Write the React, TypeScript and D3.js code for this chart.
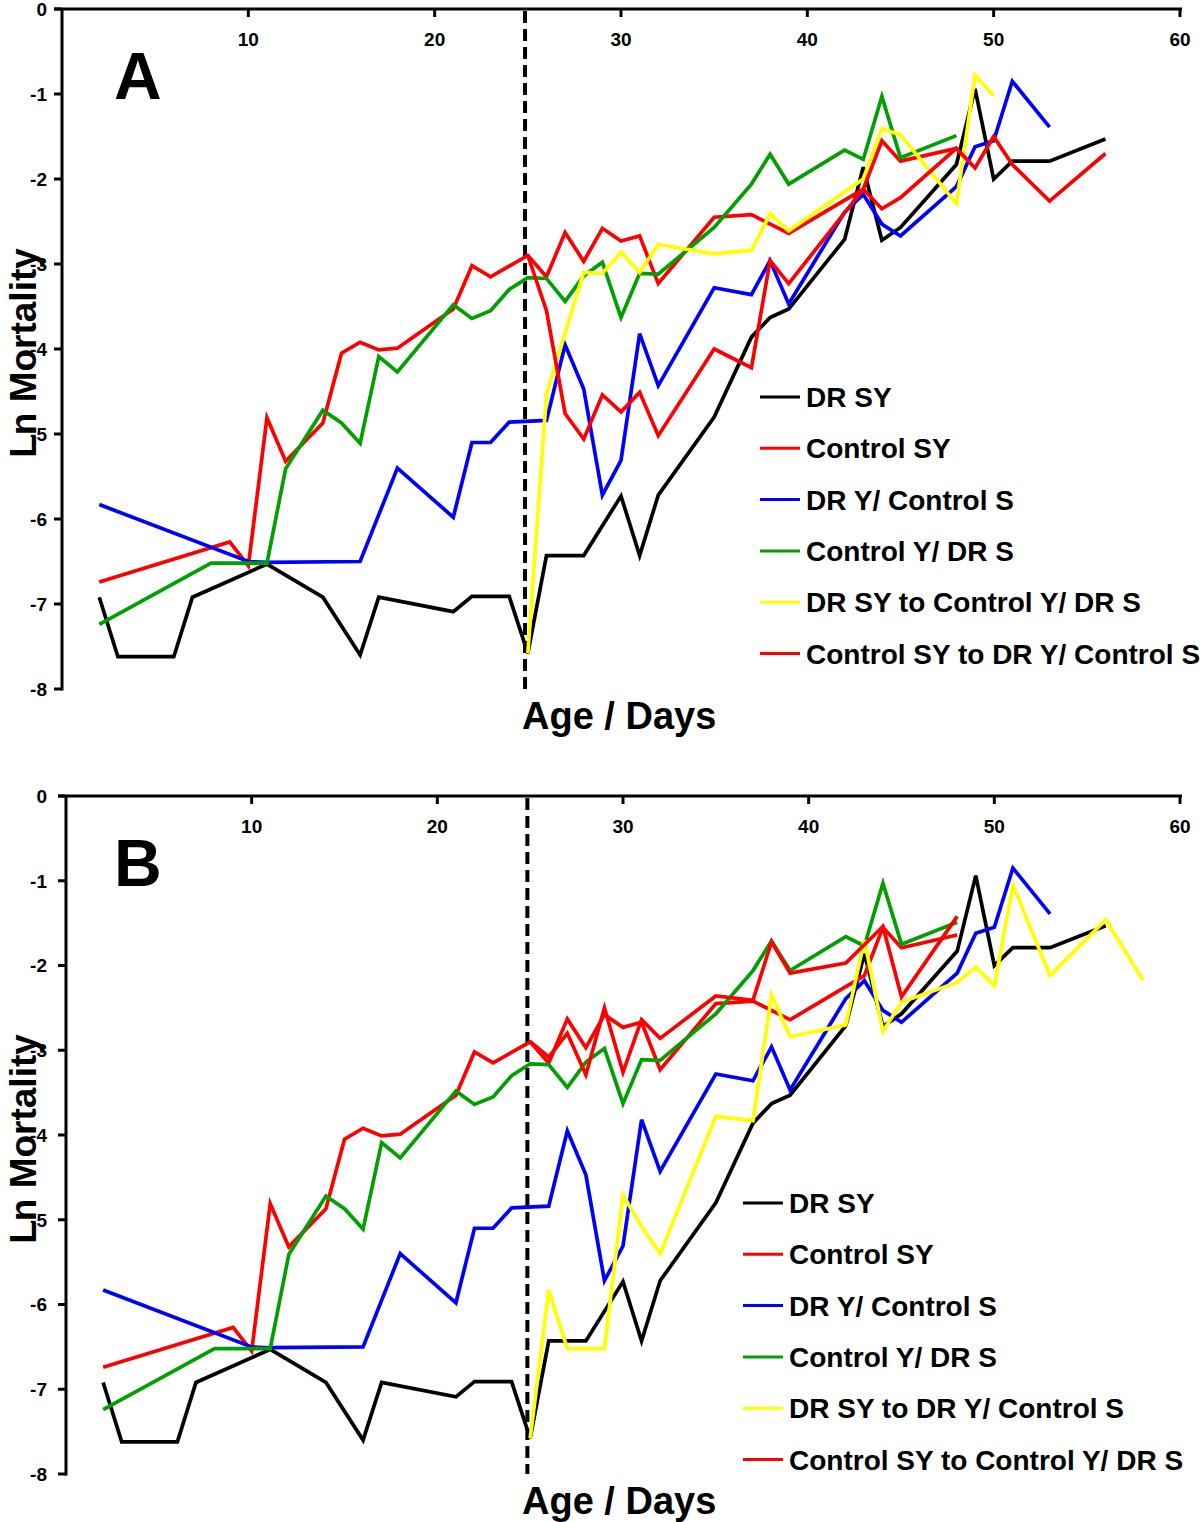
import * as d3 from "d3";

// Ln mortality against age (days).
const X_TICKS = [10, 20, 30, 40, 50, 60];
const Y_TICKS = [0, -1, -2, -3, -4, -5, -6, -7, -8];
const SWITCH_DAY = 24.85;

// shared by both panels
const drSyDays = [2, 3, 6, 7, 11, 14, 16, 17, 21, 22, 24, 25, 26, 28, 30, 31, 32, 35, 37, 38, 39, 42, 43, 44, 45, 48, 49, 50, 51, 53, 56];
const drSyLnM = [-6.92, -7.62, -7.62, -6.92, -6.53, -6.92, -7.6, -6.92, -7.09, -6.91, -6.91, -7.58, -6.43, -6.43, -5.73, -6.43, -5.72, -4.8, -3.86, -3.63, -3.53, -2.71, -1.86, -2.72, -2.57, -1.83, -0.94, -2.0, -1.79, -1.79, -1.53];

const ctlSyDays = [2, 9, 10, 11, 12, 14, 15, 16, 17, 18, 21, 22, 23, 25, 26, 27, 28, 29, 30, 31, 32, 35, 37, 39, 43, 44, 45, 48];
const ctlSyLnM = [-6.74, -6.27, -6.55, -4.81, -5.32, -4.87, -4.05, -3.92, -4.01, -3.99, -3.53, -3.02, -3.15, -2.9, -3.15, -2.63, -2.97, -2.58, -2.73, -2.67, -3.23, -2.45, -2.42, -2.64, -2.12, -1.55, -1.79, -1.64];

const drYCtlSDays = [2, 10, 11, 16, 18, 21, 22, 23, 24, 26, 27, 28, 29, 30, 31, 32, 35, 37, 38, 39, 42, 43, 44, 45, 48, 49, 50, 51, 53];
const drYCtlSLnM = [-5.83, -6.5, -6.51, -6.5, -5.4, -5.98, -5.1, -5.1, -4.86, -4.84, -3.95, -4.47, -5.72, -5.31, -3.82, -4.43, -3.28, -3.36, -2.96, -3.47, -2.39, -2.18, -2.53, -2.67, -2.09, -1.62, -1.55, -0.85, -1.39];

const ctlYDrSDays = [2, 8, 11, 12, 14, 15, 16, 17, 18, 21, 22, 23, 24, 25, 26, 27, 28, 29, 30, 31, 32, 35, 37, 38, 39, 42, 43, 44, 45, 48];
const ctlYDrSLnM = [-7.24, -6.52, -6.52, -5.41, -4.72, -4.87, -5.11, -4.09, -4.27, -3.48, -3.64, -3.55, -3.3, -3.16, -3.17, -3.44, -3.14, -2.98, -3.63, -3.11, -3.12, -2.57, -2.06, -1.71, -2.06, -1.66, -1.77, -1.03, -1.75, -1.49];

// panel A switches
const drSyToCtlYDays = [25, 26, 28, 29, 30, 31, 32, 35, 37, 38, 39, 43, 44, 45, 48, 49, 50];
const drSyToCtlYLnM = [-7.58, -4.53, -3.1, -3.11, -2.86, -3.1, -2.77, -2.88, -2.84, -2.41, -2.61, -2.0, -1.41, -1.48, -2.29, -0.78, -1.02];

const ctlSyToDrYDays = [25, 26, 27, 28, 29, 30, 31, 32, 35, 37, 38, 39, 43, 44, 45, 48, 49, 50, 51, 53, 56];
const ctlSyToDrYLnM = [-2.9, -3.55, -4.76, -5.06, -4.54, -4.74, -4.51, -5.02, -4.0, -4.22, -2.96, -3.23, -2.12, -2.35, -2.22, -1.64, -1.87, -1.5, -1.83, -2.26, -1.7];

// panel B switches
const drSyToDrYDays = [25, 26, 27, 29, 30, 31, 32, 35, 37, 38, 39, 42, 43, 44, 45, 48, 49, 50, 51, 53, 56, 58];
const drSyToDrYLnM = [-7.58, -5.83, -6.52, -6.52, -4.71, -5.08, -5.4, -3.78, -3.83, -2.35, -2.84, -2.7, -1.7, -2.78, -2.43, -2.2, -2.02, -2.24, -1.05, -2.12, -1.46, -2.17];

const ctlSyToCtlYDays = [25, 26, 27, 28, 29, 30, 31, 32, 35, 37, 38, 39, 42, 44, 45, 48];
const ctlSyToCtlYLnM = [-2.9, -3.08, -2.8, -3.29, -2.5, -3.26, -2.64, -2.86, -2.36, -2.41, -1.72, -2.09, -1.97, -1.54, -2.37, -1.42];

const LABELS_A = ["DR SY", "Control SY", "DR Y/ Control S", "Control Y/ DR S", "DR SY to Control Y/ DR S", "Control SY to DR Y/ Control S"];
const LABELS_B = ["DR SY", "Control SY", "DR Y/ Control S", "Control Y/ DR S", "DR SY to DR Y/ Control S", "Control SY to Control Y/ DR S"];
const COLORS = ["#000000", "#ff0000", "#0000ff", "#00a000", "#ffff00", "#ff0000"];

const zip = (days: number[], vals: number[]) => days.map((d, i) => [d, vals[i]] as [number, number]);

const SERIES_A = [
  zip(drSyDays, drSyLnM),
  zip(ctlSyDays, ctlSyLnM),
  zip(drYCtlSDays, drYCtlSLnM),
  zip(ctlYDrSDays, ctlYDrSLnM),
  zip(drSyToCtlYDays, drSyToCtlYLnM),
  zip(ctlSyToDrYDays, ctlSyToDrYLnM),
];
const SERIES_B = [
  zip(drSyDays, drSyLnM),
  zip(ctlSyDays, ctlSyLnM),
  zip(drYCtlSDays, drYCtlSLnM),
  zip(ctlYDrSDays, ctlYDrSLnM),
  zip(drSyToDrYDays, drSyToDrYLnM),
  zip(ctlSyToCtlYDays, ctlSyToCtlYLnM),
];

const FONT = "'Liberation Sans', Arial, Helvetica, sans-serif";

interface PanelProps {
  letter: string;
  left: number;
  top: number;
  right: number;
  bottom: number;
  series: [number, number][][];
  labels: string[];
  legendX: number;
  legendY: number;
}

function Panel({ letter, left, top, right, bottom, series, labels, legendX, legendY }: PanelProps) {
  const x = d3.scaleLinear().domain([0, 60]).range([left, right]);
  const y = d3.scaleLinear().domain([0, -8]).range([top, bottom]);
  const line = d3
    .line<[number, number]>()
    .x((d) => x(d[0]))
    .y((d) => y(d[1]));

  const legendStep = 51.3;

  return (
    <g fontFamily={FONT} fontWeight="bold">
      {/* axes */}
      <line x1={left - 8} x2={right + 2} y1={top} y2={top} stroke="#000" strokeWidth={3} />
      <line x1={left} x2={left} y1={top} y2={bottom + 1.5} stroke="#000" strokeWidth={3} />
      {X_TICKS.map((t) => (
        <g key={t}>
          <line x1={x(t)} x2={x(t)} y1={top} y2={top + 8} stroke="#000" strokeWidth={3} />
          <text x={x(t)} y={top + 37} fontSize={19} textAnchor="middle">
            {t}
          </text>
        </g>
      ))}
      {Y_TICKS.map((t) => (
        <g key={t}>
          <line x1={left - 8} x2={left} y1={y(t)} y2={y(t)} stroke="#000" strokeWidth={3} />
          <text x={47} y={y(t)} dy="0.36em" fontSize={19} textAnchor="end">
            {t}
          </text>
        </g>
      ))}

      {/* diet switch */}
      <line
        x1={x(SWITCH_DAY)}
        x2={x(SWITCH_DAY)}
        y1={top + 2}
        y2={bottom}
        stroke="#000"
        strokeWidth={4}
        strokeDasharray="12,6"
      />

      {series.map((s, i) => (
        <path
          key={i}
          d={line(s) ?? ""}
          fill="none"
          stroke={COLORS[i]}
          strokeWidth={3.7}
          strokeLinejoin="miter"
        />
      ))}

      {/* legend */}
      {labels.map((lab, i) => (
        <g key={lab} transform={`translate(${legendX},${legendY + i * legendStep})`}>
          <line x1={0} x2={40} y1={0} y2={0} stroke={COLORS[i]} strokeWidth={3} />
          <text x={46} y={10} fontSize={28}>
            {lab}
          </text>
        </g>
      ))}

      <text x={114} y={top + 90} fontSize={66}>
        {letter}
      </text>
      <text x={522} y={bottom + 40} fontSize={38}>
        Age / Days
      </text>
      <text
        transform={`translate(36,${(top + bottom) / 2 + 4}) rotate(-90)`}
        fontSize={37}
        textAnchor="middle"
      >
        Ln Mortality
      </text>
    </g>
  );
}

export default function App() {
  return (
    <div style={{ position: "absolute", left: 0, top: 0, background: "#fff" }}>
      <svg width={1200} height={1522} viewBox="0 0 1200 1522" style={{ display: "block" }}>
        <rect width={1200} height={1522} fill="#fff" />
        <Panel
          letter="A"
          left={62}
          top={9}
          right={1180}
          bottom={689}
          series={SERIES_A}
          labels={LABELS_A}
          legendX={760}
          legendY={397}
        />
        <Panel
          letter="B"
          left={66}
          top={796}
          right={1180}
          bottom={1474}
          series={SERIES_B}
          labels={LABELS_B}
          legendX={743}
          legendY={1203}
        />
      </svg>
    </div>
  );
}
